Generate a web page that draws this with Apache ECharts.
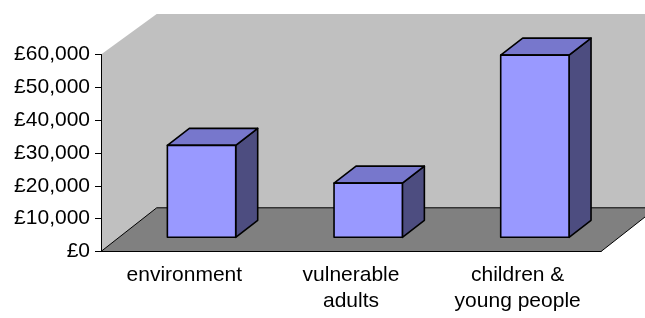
<!DOCTYPE html>
<html>
<head>
<meta charset="utf-8">
<style>
  html, body { margin: 0; padding: 0; background: #fff; }
  #chart { width: 645px; height: 318px; }
</style>
<script src="https://cdn.jsdelivr.net/npm/echarts@6/dist/echarts.min.js"></script>
</head>
<body>
<div id="chart"></div>
<script>
const categories = ['environment', 'vulnerable\nadults', 'children &\nyoung people']
const funding = [28000, 16500, 55500]
const yTicks = { min: 0, max: 60000, interval: 10000 }

// 3D look: floor/wall depth and bar placement inside that depth
const DEPTH = [55.7, -43.7]
const WALL_TOP_DY = -40.5
const BAR_SHIFT = [17.2, -14.2]
const BAR_DEPTH = [22, -17]
const BAR_WIDTH = 0.41

const fmt = v => '£' + String(v).replace(/\B(?=(\d{3})+(?!\d))/g, ',')

const chart = echarts.init(document.getElementById('chart'))

function renderBackdrop(params, api) {
  const cs = params.coordSys
  const x = cs.x, y = cs.y, w = cs.width, h = cs.height
  const fy = y + h
  return {
    type: 'group',
    children: [
      {
        type: 'polygon',
        shape: { points: [[x, fy], [x, y], [x + DEPTH[0], y + WALL_TOP_DY], [x + w + DEPTH[0] + 20, y + WALL_TOP_DY], [x + w + DEPTH[0] + 20, fy + DEPTH[1]]] },
        style: { fill: '#c0c0c0' }
      },
      {
        type: 'polygon',
        shape: { points: [[x, fy], [x + DEPTH[0], fy + DEPTH[1]], [x + w + DEPTH[0], fy + DEPTH[1]], [x + w, fy]] },
        style: { fill: '#808080', stroke: '#000', lineWidth: 1 }
      }
    ]
  }
}

function renderBar(params, api) {
  const idx = api.value(0)
  const base = api.coord([idx, 0])
  const top = api.coord([idx, api.value(1)])
  const bw = api.size([1, 0])[0] * BAR_WIDTH
  const x0 = base[0] + BAR_SHIFT[0] - bw / 2
  const x1 = x0 + bw
  const y0 = top[1] + BAR_SHIFT[1]
  const y1 = base[1] + BAR_SHIFT[1]
  const dx = BAR_DEPTH[0], dy = BAR_DEPTH[1]
  const edge = { stroke: '#000', lineWidth: 1.6, lineJoin: 'round' }
  return {
    type: 'group',
    children: [
      { type: 'polygon', shape: { points: [[x1, y0], [x1 + dx, y0 + dy], [x1 + dx, y1 + dy], [x1, y1]] }, style: Object.assign({ fill: '#4d4d80' }, edge) },
      { type: 'polygon', shape: { points: [[x0, y0], [x0 + dx, y0 + dy], [x1 + dx, y0 + dy], [x1, y0]] }, style: Object.assign({ fill: '#7777cc' }, edge) },
      { type: 'rect', shape: { x: x0, y: y0, width: bw, height: y1 - y0 }, style: Object.assign({ fill: '#9999ff' }, edge) }
    ]
  }
}

chart.setOption({
  animation: false,
  grid: { left: 101, right: 44, top: 54.5, bottom: 66.5 },
  xAxis: {
    type: 'category',
    data: categories,
    axisLine: { lineStyle: { color: '#000', width: 1 } },
    axisTick: { length: 5, lineStyle: { color: '#000' } },
    axisLabel: { color: '#000', fontFamily: 'Liberation Sans', fontSize: 21, lineHeight: 26, margin: 11 }
  },
  yAxis: {
    type: 'value',
    min: yTicks.min, max: yTicks.max, interval: yTicks.interval,
    axisLine: { show: true, lineStyle: { color: '#000', width: 1 } },
    axisTick: { show: true, length: 6, lineStyle: { color: '#000' } },
    splitLine: { show: false },
    axisLabel: { color: '#000', fontFamily: 'Liberation Sans', fontSize: 21, margin: 11, formatter: fmt }
  },
  series: [
    { type: 'custom', z: -1, silent: true, renderItem: renderBackdrop, data: [[0, 0]] },
    { type: 'custom', z: 3, renderItem: renderBar, data: funding.map((v, i) => [i, v]) }
  ]
})
</script>
</body>
</html>
